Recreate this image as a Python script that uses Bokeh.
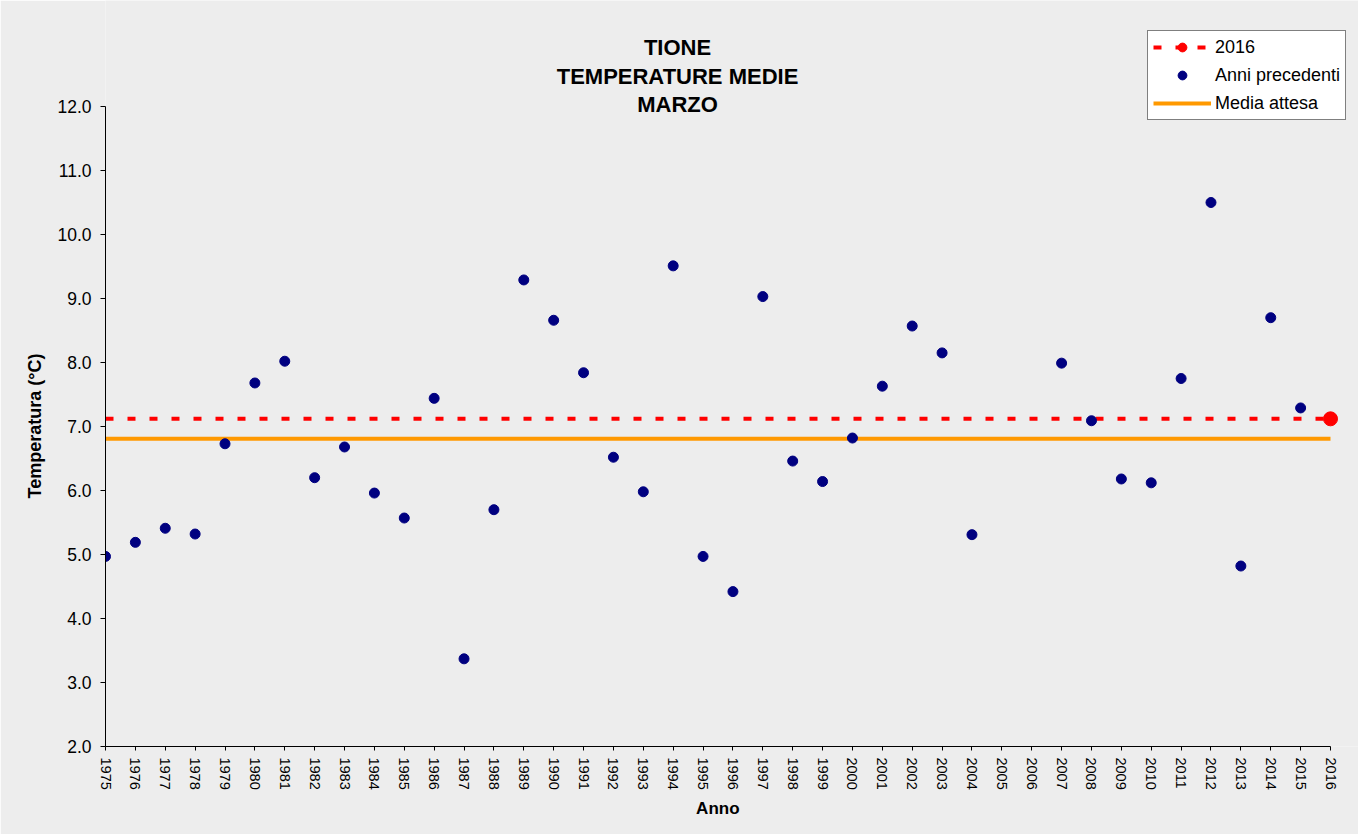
import math
from bokeh.plotting import figure
from bokeh.models import (Range1d, FixedTicker, PrintfTickFormatter, Legend,
                          LegendItem, Label)
from bokeh.embed import file_html
from bokeh.resources import INLINE

nan = float("nan")

# ---- data -------------------------------------------------------------
years = list(range(1975, 2016))
temps = [4.97, 5.19, 5.41, 5.32, 6.73, 7.68, 8.02, 6.20, 6.68, 5.96,
         5.57, 7.44, 3.37, 5.70, 9.29, 8.66, 7.84, 6.52, 5.98, 9.51,
         4.97, 4.42, 9.03, 6.46, 6.14, 6.82, 7.63, 8.57, 8.15, 5.31,
         nan, nan, 7.99, 7.09, 6.18, 6.12, 7.75, 10.50, 4.82, 8.70,
         7.29]
year_current = [2016]
temp_current = [7.12]
media_attesa = 6.81
tick_years = list(range(1975, 2017))
y_ticks = [2.0, 3.0, 4.0, 5.0, 6.0, 7.0, 8.0, 9.0, 10.0, 11.0, 12.0]
title_lines = ["TIONE", "TEMPERATURE MEDIE", "MARZO"]
x_title = "Anno"
y_title = "Temperatura (°C)"

# ---- geometry / styling ------------------------------------------------
FONT = "Liberation Sans"
BG = "#ededed"
W, H = 1358, 834
BL, BB = 105, 88               # axes panels; frame runs to top/right edge
AXIS_W, AXIS_H = 1225, 640     # pixel length of the drawn axes
x0, x1 = tick_years[0], tick_years[-1]
y0, y1 = y_ticks[0], y_ticks[-1]
px_x = (x1 - x0) / AXIS_W
px_y = (y1 - y0) / AXIS_H
x_end = x0 + (W - BL) * px_x
y_end = y0 + (H - BB) * px_y
NBSP = "\u00a0"

p = figure(width=W, height=H, x_range=Range1d(x0, x_end),
           y_range=Range1d(y0, y_end),
           output_backend="svg", toolbar_location=None,
           min_border_left=BL, min_border_right=0,
           min_border_top=0, min_border_bottom=BB,
           background_fill_color=BG, border_fill_color=BG,
           outline_line_color=None)
p.title.visible = False
p.xgrid.visible = False
p.ygrid.visible = False

# axes (axis titles padded so they sit centred on the drawn axis part)
p.xaxis.bounds = (x0, x1)
p.xaxis.ticker = FixedTicker(ticks=tick_years)
p.xaxis.major_label_orientation = "vertical"
p.xaxis.major_label_text_font = FONT
p.xaxis.major_label_text_font_size = "14.5px"
p.xaxis.major_label_text_color = "black"
p.xaxis.major_tick_in = 0
p.xaxis.major_tick_out = 4
p.xaxis.major_label_standoff = 7
p.xaxis.minor_tick_line_color = None
p.xaxis.axis_label = x_title + NBSP * 6
p.xaxis.axis_label_text_font = FONT
p.xaxis.axis_label_text_font_style = "bold"
p.xaxis.axis_label_text_font_size = "17px"
p.xaxis.axis_label_text_color = "black"
p.xaxis.axis_label_standoff = 6

p.yaxis.bounds = (y0, y1)
p.yaxis.ticker = FixedTicker(ticks=y_ticks)
p.yaxis.formatter = PrintfTickFormatter(format="%.1f")
p.yaxis.major_label_text_font = FONT
p.yaxis.major_label_text_font_size = "17.5px"
p.yaxis.major_label_text_color = "black"
p.yaxis.major_tick_in = 0
p.yaxis.major_tick_out = 5
p.yaxis.major_label_standoff = 9
p.yaxis.minor_tick_line_color = None
p.yaxis.axis_label = y_title + NBSP * 21
p.yaxis.axis_label_text_font = FONT
p.yaxis.axis_label_text_font_style = "bold"
p.yaxis.axis_label_text_font_size = "18px"
p.yaxis.axis_label_text_color = "black"
p.yaxis.axis_label_standoff = 9

for ax in (p.xaxis, p.yaxis):
    ax.axis_line_color = "black"
    ax.major_tick_line_color = "black"

# ---- marks ------------------------------------------------------------
orange = p.line(x=[x0, x1], y=[media_attesa, media_attesa],
                line_color="#FF9900", line_width=4)
red_line = p.line(x=[x0, year_current[0]], y=[temp_current[0], temp_current[0]],
                  line_color="#FF0000", line_width=4, line_dash="8 14")
pts = p.scatter(x=years, y=temps, size=10, marker="circle",
                fill_color="#000080", line_color="#000080")
red_dot = p.scatter(x=year_current, y=temp_current, size=14, marker="circle",
                    fill_color="#FF0000", line_color="#FF0000")

# ---- legend -----------------------------------------------------------
legend = Legend(items=[
    LegendItem(label="2016", renderers=[red_line, red_dot]),
    LegendItem(label="Anni precedenti", renderers=[pts]),
    LegendItem(label="Media attesa", renderers=[orange]),
], location=(1042, 626))
legend.label_text_font = FONT
legend.label_text_font_size = "18px"
legend.label_text_color = "black"
legend.glyph_width = 58
legend.glyph_height = 22
legend.label_height = 22
legend.label_standoff = 4
legend.spacing = 6
legend.padding = 5
legend.margin = 0
legend.border_line_color = "black"
legend.border_line_width = 1
legend.background_fill_color = "white"
legend.background_fill_alpha = 1.0
p.add_layout(legend, "center")

# ---- title (three centred lines) --------------------------------------
title_cx = x0 + (677 - BL) * px_x
title_baselines = [47.3, 76.0, 104.3]   # page y of each baseline
for txt, by in zip(title_lines, title_baselines):
    p.add_layout(Label(x=title_cx, y=y0 + (H - BB - by) * px_y, text=txt,
                       text_align="center", text_baseline="alphabetic",
                       text_font=FONT, text_font_style="bold",
                       text_font_size="22px", text_color="black"))

open("out.html", "w").write(file_html(p, INLINE))
